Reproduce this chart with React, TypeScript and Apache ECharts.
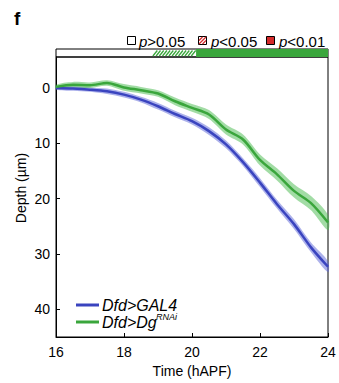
import React, { useEffect, useRef } from "react";
import * as echarts from "echarts";

const times = [16, 16.5, 17, 17.5, 18, 18.5, 19, 19.5, 20, 20.5, 21, 21.5, 22, 22.5, 23, 23.5, 24];
const gal4Mean = [0, 0.1, 0.3, 0.6, 1.2, 2.1, 3.3, 4.7, 6.0, 7.8, 10.2, 13.4, 17.1, 21.0, 24.6, 28.8, 32.3];
const gal4Sem = [0.3, 0.4, 0.4, 0.5, 0.5, 0.5, 0.6, 0.6, 0.6, 0.7, 0.7, 0.7, 0.8, 0.8, 0.9, 0.9, 1.0];
const dgMean = [-0.2, -0.6, -0.5, -0.9, -0.1, 0.4, 1.0, 2.4, 3.6, 4.8, 7.5, 9.3, 13.0, 15.6, 18.6, 20.8, 24.3];
const dgSem = [0.4, 0.5, 0.5, 0.5, 0.6, 0.6, 0.6, 0.7, 0.7, 0.8, 0.9, 0.9, 1.0, 1.1, 1.2, 1.3, 1.4];
const yTicks = [0, 10, 20, 30, 40];
const sigStart = [16, 18.85, 20.12];
const sigEnd = [18.85, 20.12, 24];
const sigLevel = ["ns", "p05", "p01"];

const BLUE = "#3a44bf";
const BLUE_BAND = "rgba(90,100,215,0.5)";
const GREEN = "#3aa63c";
const GREEN_BAND = "rgba(70,185,75,0.5)";
const RED = "#d42a2a";
const FONT = "Liberation Sans";

function bandSeries(mean: number[], sem: number[], color: string) {
  return {
    type: "custom",
    xAxisIndex: 0,
    yAxisIndex: 0,
    data: [[times[0], mean[0]]],
    renderItem: (_p: any, api: any) => {
      const pts: number[][] = [];
      for (let i = 0; i < times.length; i++) pts.push(api.coord([times[i], mean[i] - sem[i]]));
      for (let i = times.length - 1; i >= 0; i--) pts.push(api.coord([times[i], mean[i] + sem[i]]));
      return {
        type: "polygon",
        shape: { points: pts, smooth: 0.3 },
        style: { fill: color },
      };
    },
    silent: true,
    z: 1,
  };
}

function lineSeries(mean: number[], color: string) {
  return {
    type: "line",
    xAxisIndex: 0,
    yAxisIndex: 0,
    data: times.map((t, i) => [t, mean[i]]),
    smooth: 0.3,
    showSymbol: false,
    lineStyle: { color, width: 2.5 },
    z: 3,
  };
}

export default function App() {
  const ref = useRef<HTMLDivElement>(null);
  useEffect(() => {
    if (!ref.current) return;
    const chart = echarts.init(ref.current, null, { renderer: "svg" });
    const sigData = sigStart.map((s, i) => [s, sigEnd[i], i]);
    const italicP = { i: { fontStyle: "italic", fontSize: 15, fontFamily: FONT } };
    const option: any = {
      animation: false,
      textStyle: { fontFamily: FONT },
      grid: [
        { left: 56, right: 11, top: 57, bottom: 46, show: true, borderColor: "#000", borderWidth: 1 },
        { left: 56, right: 11, top: 49, height: 8, show: true, borderColor: "#000", borderWidth: 1 },
      ],
      xAxis: [
        {
          type: "value",
          gridIndex: 0,
          min: 16,
          max: 24,
          interval: 2,
          splitLine: { show: false },
          axisLine: { onZero: false, lineStyle: { color: "#000", width: 1 } },
          axisTick: { inside: true, length: 4, lineStyle: { color: "#000" } },
          axisLabel: { color: "#000", fontSize: 14, margin: 8, fontFamily: FONT },
          name: "Time (hAPF)",
          nameLocation: "middle",
          nameGap: 19,
          nameTextStyle: { color: "#000", fontSize: 14, fontFamily: FONT },
        },
        { type: "value", gridIndex: 1, min: 16, max: 24, show: false },
      ],
      yAxis: [
        {
          type: "value",
          gridIndex: 0,
          inverse: true,
          min: -5.6,
          max: 45,
          splitLine: { show: false },
          axisLine: { show: true, onZero: false, lineStyle: { color: "#000", width: 1 } },
          axisTick: { show: true, inside: true, length: 4, lineStyle: { color: "#000" }, customValues: yTicks },
          axisLabel: { color: "#000", fontSize: 14, margin: 6, fontFamily: FONT, customValues: yTicks },
        },
        { type: "value", gridIndex: 1, min: 0, max: 1, show: false },
      ],
      series: [
        bandSeries(gal4Mean, gal4Sem, BLUE_BAND),
        bandSeries(dgMean, dgSem, GREEN_BAND),
        lineSeries(gal4Mean, BLUE),
        lineSeries(dgMean, GREEN),
        {
          type: "custom",
          xAxisIndex: 1,
          yAxisIndex: 1,
          data: sigData,
          silent: true,
          renderItem: (params: any, api: any) => {
            const idx = params.dataIndex;
            const lvl = sigLevel[idx];
            const a = api.coord([api.value(0), 1]);
            const b = api.coord([api.value(1), 0]);
            if (lvl === "p01") {
              return { type: "rect", shape: { x: a[0], y: a[1], width: b[0] - a[0], height: b[1] - a[1] }, style: { fill: GREEN } };
            }
            if (lvl === "p05") {
              const children: any[] = [];
              const top = a[1] + 1.5;
              const bot = b[1] - 1;
              const step = 3.2;
              for (let x = a[0]; x + (bot - top) * 0.8 <= b[0]; x += step) {
                children.push({
                  type: "line",
                  shape: { x1: x, y1: bot, x2: x + (bot - top) * 0.8, y2: top },
                  style: { stroke: GREEN, lineWidth: 1.3 },
                });
              }
              return { type: "group", children };
            }
            return { type: "group", children: [] };
          },
        },
      ],
      graphic: [
        { type: "text", x: 14, y: 9, style: { text: "f", font: `bold 19px ${FONT}`, fill: "#000" } },
        {
          type: "text",
          x: 21,
          y: 188,
          rotation: Math.PI / 2,
          style: { text: "Depth (µm)", font: `14px ${FONT}`, fill: "#000", align: "center", verticalAlign: "middle" },
        },
        // top significance legend
        { type: "rect", shape: { x: 127.5, y: 36.5, width: 8, height: 8 }, style: { fill: "#fff", stroke: "#000", lineWidth: 1 } },
        {
          type: "text",
          x: 139,
          y: 41,
          style: { text: "{i|p}>0.05", fill: "#000", font: `15px ${FONT}`, verticalAlign: "middle", rich: italicP },
        },
        { type: "rect", shape: { x: 198.5, y: 36.5, width: 8, height: 8 }, style: { fill: "#fff", stroke: "#000", lineWidth: 1 } },
        { type: "line", shape: { x1: 199, y1: 40.5, x2: 202.5, y2: 37 }, style: { stroke: RED, lineWidth: 1.2 } },
        { type: "line", shape: { x1: 199, y1: 44, x2: 206, y2: 37 }, style: { stroke: RED, lineWidth: 1.2 } },
        { type: "line", shape: { x1: 202.5, y1: 44, x2: 206, y2: 40.5 }, style: { stroke: RED, lineWidth: 1.2 } },
        {
          type: "text",
          x: 211,
          y: 41,
          style: { text: "{i|p}<0.05", fill: "#000", font: `15px ${FONT}`, verticalAlign: "middle", rich: italicP },
        },
        { type: "rect", shape: { x: 266.5, y: 36.5, width: 8, height: 8 }, style: { fill: RED, stroke: "#000", lineWidth: 1 } },
        {
          type: "text",
          x: 279,
          y: 41,
          style: { text: "{i|p}<0.01", fill: "#000", font: `15px ${FONT}`, verticalAlign: "middle", rich: italicP },
        },
        // bottom legend
        { type: "line", shape: { x1: 76, y1: 305, x2: 99, y2: 305 }, style: { stroke: BLUE, lineWidth: 3 } },
        { type: "line", shape: { x1: 76, y1: 322, x2: 99, y2: 322 }, style: { stroke: GREEN, lineWidth: 3 } },
        {
          type: "text",
          x: 102,
          y: 305,
          style: { text: "Dfd>GAL4", fill: "#000", font: `italic 16px ${FONT}`, verticalAlign: "middle" },
        },
        {
          type: "text",
          x: 102,
          y: 322,
          style: { text: "Dfd>Dg", fill: "#000", font: `italic 16px ${FONT}`, verticalAlign: "middle" },
        },
        {
          type: "text",
          x: 156,
          y: 317,
          style: { text: "RNAi", fill: "#000", font: `italic 9px ${FONT}`, verticalAlign: "middle" },
        },
      ],
    };
    chart.setOption(option);
    return () => chart.dispose();
  }, []);
  return <div ref={ref} style={{ width: 339, height: 383, position: "absolute", left: 0, top: 0 }} />;
}
